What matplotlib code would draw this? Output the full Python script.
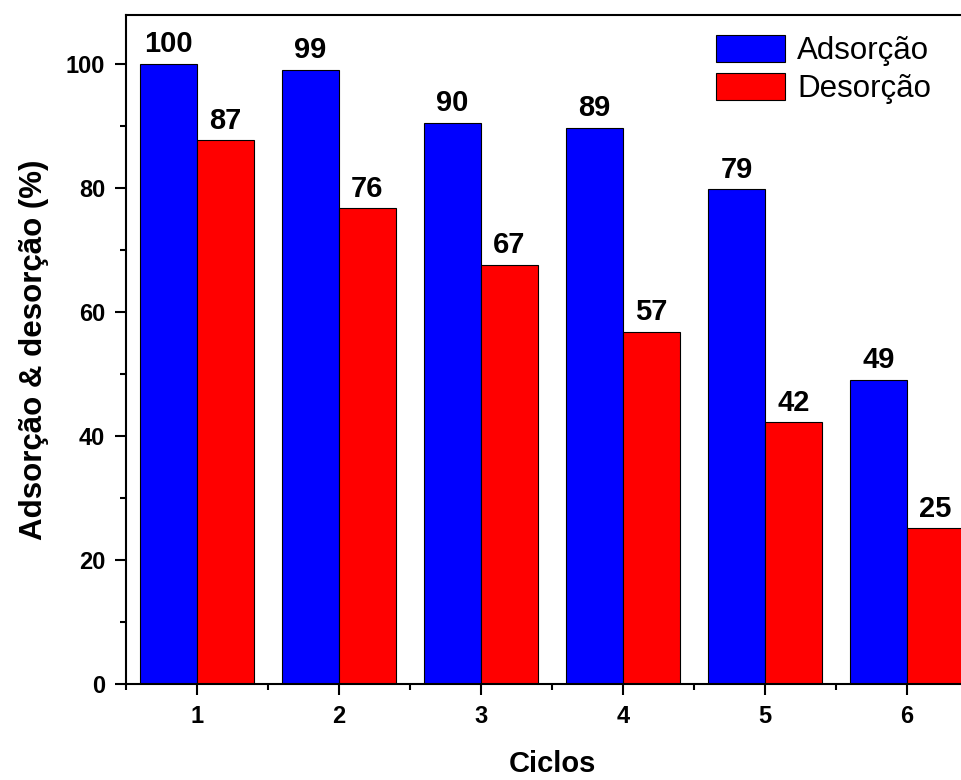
import numpy as np
import matplotlib.pyplot as plt

plt.rcParams['font.family'] = ['Liberation Sans', 'DejaVu Sans']

# -C- --- данные ------------------------------------------
ciclos = [1, 2, 3, 4, 5, 6]
adsorcao = [100, 99.1, 90.5, 89.7, 79.8, 49.1]
desorcao = [87.7, 76.7, 67.6, 56.8, 42.2, 25.1]
rot_ads = ['100', '99', '90', '89', '79', '49']
rot_des = ['87', '76', '67', '57', '42', '25']

# -C- --- рисунок -----------------------------------------
fig = plt.figure(figsize=(9.61, 7.8), dpi=100)
ax = fig.add_axes([126/961, 1 - 684/780, 852/961, 669/780])

x = np.array(ciclos)
w = 0.4
b1 = ax.bar(x - w/2, adsorcao, w, color='#0000ff', edgecolor='black', linewidth=0.8, label='Adsorção')
b2 = ax.bar(x + w/2, desorcao, w, color='#ff0000', edgecolor='black', linewidth=0.8, label='Desorção')

ax.bar_label(b1, labels=rot_ads, padding=4, fontsize=21, fontweight='bold')
ax.bar_label(b2, labels=rot_des, padding=4, fontsize=21, fontweight='bold')

ax.set_xlim(0.5, 6.5)
ax.set_ylim(0, 107.9)
ax.set_xticks(ciclos)
ax.set_xticks([1.5, 2.5, 3.5, 4.5, 5.5, 0.5], minor=True)
ax.set_yticks([0, 20, 40, 60, 80, 100])
ax.set_yticks([10, 30, 50, 70, 90], minor=True)
ax.tick_params(which='major', direction='out', length=8, width=1.5, labelsize=17, pad=7)
ax.tick_params(which='minor', direction='out', length=4.5, width=1.5)
for t in ax.get_xticklabels() + ax.get_yticklabels():
    t.set_fontweight('bold')
for s in ax.spines.values():
    s.set_linewidth(1.5)
ax.spines['right'].set_visible(False)

ax.set_xlabel('Ciclos', fontsize=21, fontweight='bold', labelpad=16)
ax.set_ylabel('Adsorção & desorção (%)', fontsize=22.5, fontweight='bold', labelpad=12)

ax.legend(loc='upper right', bbox_to_anchor=(0.978, 1.012), fontsize=22.5, frameon=False,
          handlelength=2.2, handleheight=0.95, handletextpad=0.4, labelspacing=0.22)

fig.savefig('out.png', dpi=100)
